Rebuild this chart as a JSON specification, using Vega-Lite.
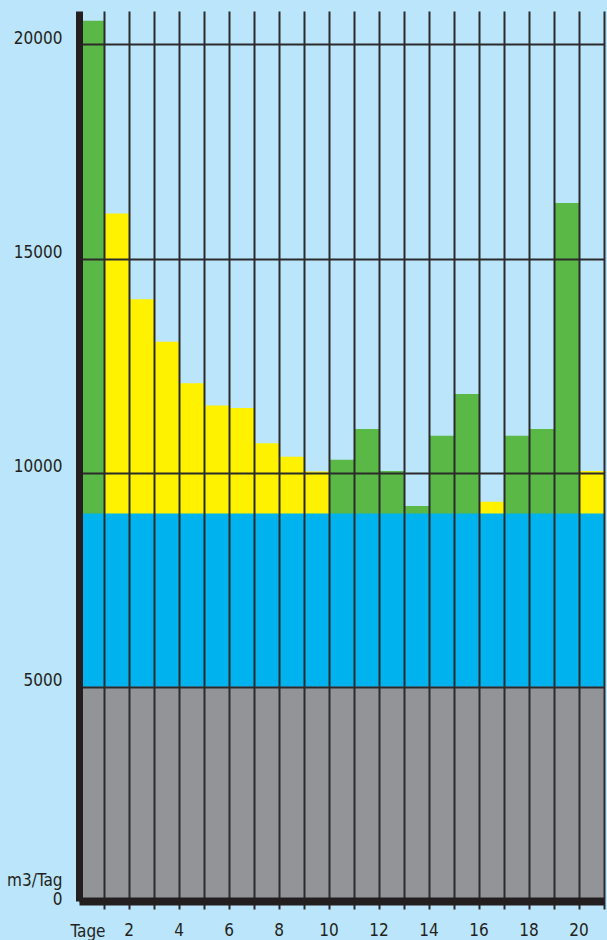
{
  "$schema": "https://vega.github.io/schema/vega-lite/v6.json",
  "width": 525,
  "height": 890,
  "autosize": {"type": "none"},
  "padding": {"left": 79, "top": 11, "right": 3, "bottom": 39},
  "background": "#bbe5fa",
  "config": {
    "view": {"stroke": null},
    "axis": {
      "labelFont": "DejaVu Sans Condensed, Liberation Sans, sans-serif",
      "titleFont": "DejaVu Sans Condensed, Liberation Sans, sans-serif",
      "labelColor": "#231f20",
      "titleColor": "#231f20",
      "titleFontWeight": "normal",
      "gridColor": "#2b2b2b",
      "gridWidth": 2,
      "gridOpacity": 1
    }
  },
  "data": {
    "values": [
      {"Tag": 1, "Gesamt": 20550, "Typ": "A", "Mittel": 9050, "Sockel": 5000},
      {"Tag": 2, "Gesamt": 16050, "Typ": "B", "Mittel": 9050, "Sockel": 5000},
      {"Tag": 3, "Gesamt": 14050, "Typ": "B", "Mittel": 9050, "Sockel": 5000},
      {"Tag": 4, "Gesamt": 13060, "Typ": "B", "Mittel": 9050, "Sockel": 5000},
      {"Tag": 5, "Gesamt": 12090, "Typ": "B", "Mittel": 9050, "Sockel": 5000},
      {"Tag": 6, "Gesamt": 11570, "Typ": "B", "Mittel": 9050, "Sockel": 5000},
      {"Tag": 7, "Gesamt": 11510, "Typ": "B", "Mittel": 9050, "Sockel": 5000},
      {"Tag": 8, "Gesamt": 10690, "Typ": "B", "Mittel": 9050, "Sockel": 5000},
      {"Tag": 9, "Gesamt": 10370, "Typ": "B", "Mittel": 9050, "Sockel": 5000},
      {"Tag": 10, "Gesamt": 10030, "Typ": "B", "Mittel": 9050, "Sockel": 5000},
      {"Tag": 11, "Gesamt": 10300, "Typ": "A", "Mittel": 9050, "Sockel": 5000},
      {"Tag": 12, "Gesamt": 11020, "Typ": "A", "Mittel": 9050, "Sockel": 5000},
      {"Tag": 13, "Gesamt": 10040, "Typ": "A", "Mittel": 9050, "Sockel": 5000},
      {"Tag": 14, "Gesamt": 9220, "Typ": "A", "Mittel": 9050, "Sockel": 5000},
      {"Tag": 15, "Gesamt": 10860, "Typ": "A", "Mittel": 9050, "Sockel": 5000},
      {"Tag": 16, "Gesamt": 11840, "Typ": "A", "Mittel": 9050, "Sockel": 5000},
      {"Tag": 17, "Gesamt": 9320, "Typ": "B", "Mittel": 9050, "Sockel": 5000},
      {"Tag": 18, "Gesamt": 10860, "Typ": "A", "Mittel": 9050, "Sockel": 5000},
      {"Tag": 19, "Gesamt": 11020, "Typ": "A", "Mittel": 9050, "Sockel": 5000},
      {"Tag": 20, "Gesamt": 16300, "Typ": "A", "Mittel": 9050, "Sockel": 5000},
      {"Tag": 21, "Gesamt": 10040, "Typ": "B", "Mittel": 9050, "Sockel": 5000}
    ]
  },
  "encoding": {
    "x": {
      "field": "Tag",
      "type": "ordinal",
      "sort": "ascending",
      "scale": {"type": "band", "paddingInner": 0, "paddingOuter": 0},
      "axis": {
        "zindex": 1,
        "title": "Tage",
        "titleFontSize": 17,
        "titleAlign": "left",
        "titleAnchor": "start",
        "titleBaseline": "alphabetic",
        "titleX": -9,
        "titleY": 35,
        "labelAngle": 0,
        "labelFontSize": 17,
        "labelPadding": 13,
        "labelOffset": 12.5,
        "labelOverlap": false,
        "labelExpr": "datum.value % 2 == 0 ? datum.label : ''",
        "bandPosition": 1,
        "grid": true,
        "ticks": true,
        "tickSize": 8,
        "tickWidth": 2,
        "tickColor": "#2b2b2b",
        "domain": true,
        "domainColor": "#231f20",
        "domainWidth": 8
      }
    }
  },
  "layer": [
    {
      "mark": {"type": "bar"},
      "encoding": {
        "y": {
          "field": "Gesamt",
          "type": "quantitative",
          "title": "m3/Tag",
          "scale": {"domain": [0, 20780], "nice": false, "zero": true},
          "axis": {
            "zindex": 1,
            "values": [0, 5000, 10000, 15000, 20000],
            "format": "d",
            "grid": true,
            "ticks": false,
            "labelFontSize": 17,
            "labelPadding": 17,
            "labelBaseline": "alphabetic",
            "labelOffset": {"condition": {"test": "datum.value == 0", "value": 3}, "value": -1},
            "domainColor": "#231f20",
            "domainWidth": 7,
            "titleAngle": 0,
            "titleAlign": "right",
            "titleBaseline": "alphabetic",
            "titleFontSize": 17,
            "titleX": -17,
            "titleY": 874
          }
        },
        "color": {
          "field": "Typ",
          "type": "nominal",
          "scale": {"domain": ["A", "B"], "range": ["#5ab946", "#fff200"]},
          "legend": null
        }
      }
    },
    {
      "mark": {"type": "bar", "color": "#00b2ee"},
      "encoding": {
        "y": {
          "field": "Mittel",
          "type": "quantitative",
          "title": "m3/Tag",
          "scale": {"domain": [0, 20780], "nice": false, "zero": true}
        }
      }
    },
    {
      "mark": {"type": "bar", "color": "#939498"},
      "encoding": {
        "y": {
          "field": "Sockel",
          "type": "quantitative",
          "title": "m3/Tag",
          "scale": {"domain": [0, 20780], "nice": false, "zero": true}
        }
      }
    }
  ]
}
